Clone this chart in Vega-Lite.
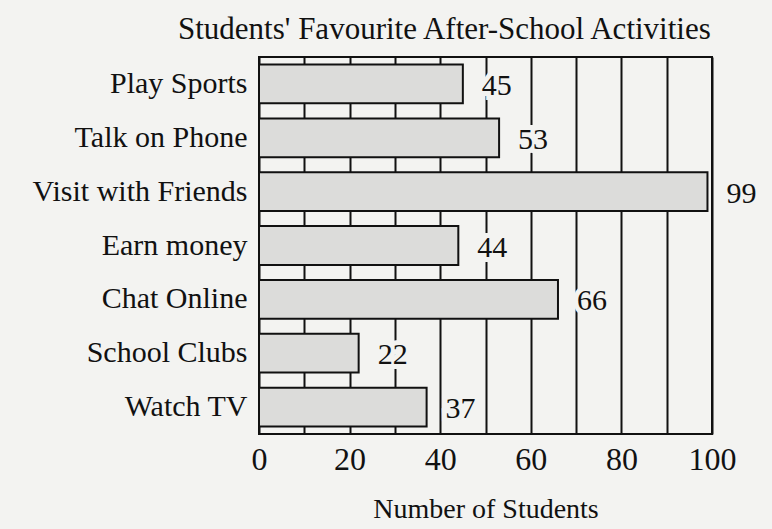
{
  "$schema": "https://vega.github.io/schema/vega-lite/v6.json",
  "width": 453,
  "height": 377,
  "autosize": "none",
  "padding": {"left": 259, "top": 57, "right": 60, "bottom": 95},
  "background": "#f3f3f1",
  "title": {
    "text": "Students' Favourite After-School Activities",
    "anchor": "start",
    "frame": "group",
    "dx": -81,
    "offset": 11,
    "font": "Liberation Serif",
    "fontSize": 31,
    "fontWeight": "normal",
    "color": "#111111"
  },
  "config": {
    "view": {"stroke": "#111111", "strokeWidth": 2, "fill": "#f3f3f1"},
    "font": "Liberation Serif"
  },
  "data": {
    "values": [
      {"activity": "Play Sports", "students": 45},
      {"activity": "Talk on Phone", "students": 53},
      {"activity": "Visit with Friends", "students": 99},
      {"activity": "Earn money", "students": 44},
      {"activity": "Chat  Online", "students": 66},
      {"activity": "School Clubs", "students": 22},
      {"activity": "Watch TV", "students": 37}
    ]
  },
  "encoding": {
    "y": {
      "field": "activity",
      "type": "nominal",
      "sort": null,
      "scale": {"paddingInner": 0.28, "paddingOuter": 0.14},
      "axis": {
        "title": null,
        "domain": false,
        "ticks": false,
        "labelPadding": 12,
        "labelFont": "Liberation Serif",
        "labelFontSize": 30,
        "labelColor": "#111111",
        "labelLimit": 300
      }
    },
    "x": {
      "field": "students",
      "type": "quantitative",
      "scale": {"domain": [0, 100], "nice": false},
      "axis": {
        "values": [0, 10, 20, 30, 40, 50, 60, 70, 80, 90, 100],
        "labelExpr": "datum.value % 20 == 0 ? datum.label : ''",
        "grid": true,
        "gridColor": "#111111",
        "gridWidth": 2,
        "gridOpacity": 1,
        "ticks": false,
        "domain": false,
        "labelPadding": 10,
        "labelFont": "Liberation Serif",
        "labelFontSize": 32,
        "labelColor": "#111111",
        "labelFlush": false,
        "title": "Number of Students",
        "titleFont": "Liberation Serif",
        "titleFontSize": 28,
        "titleFontWeight": "normal",
        "titleColor": "#111111",
        "titlePadding": 20
      }
    }
  },
  "layer": [
    {
      "mark": {"type": "bar", "fill": "#dcdcda", "stroke": "#111111", "strokeWidth": 2}
    },
    {
      "mark": {"type": "text", "align": "left", "baseline": "middle", "dx": 19, "dy": 2, "font": "Liberation Serif", "fontSize": 30, "stroke": "#f3f3f1", "strokeWidth": 10, "fill": "#f3f3f1"},
      "encoding": {"text": {"field": "students", "type": "quantitative"}}
    },
    {
      "mark": {"type": "text", "align": "left", "baseline": "middle", "dx": 19, "dy": 2, "font": "Liberation Serif", "fontSize": 30, "color": "#111111"},
      "encoding": {"text": {"field": "students", "type": "quantitative"}}
    }
  ]
}
